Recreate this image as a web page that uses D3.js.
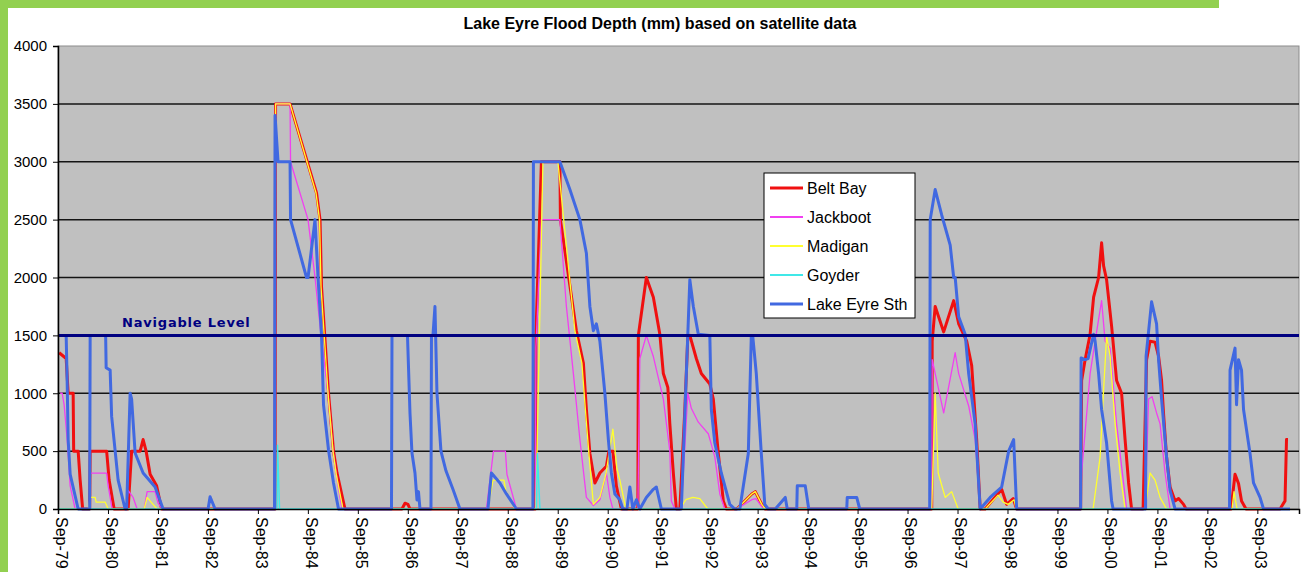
<!DOCTYPE html>
<html>
<head>
<meta charset="utf-8">
<script src="https://cdn.jsdelivr.net/npm/d3@7/dist/d3.min.js"></script>
<style>
  body { margin: 0; background: #fff; }
  svg { display: block; }
</style>
</head>
<body>
<div id="chart"></div>
<script>
// values: [decimal year, depth mm]
var beltBay = [
  [1979.69,1350],[1979.83,1300],[1979.87,1000],[1979.97,1000],[1979.98,500],[1980.07,500],[1980.11,250],[1980.16,0],
  [1980.30,0],[1980.31,500],[1980.64,500],[1980.69,250],[1980.79,0],
  [1981.07,0],[1981.14,500],[1981.31,500],[1981.37,600],[1981.43,500],[1981.51,300],[1981.64,200],[1981.74,0],
  [1984.01,0],[1984.02,3500],[1984.31,3500],[1984.84,2730],[1984.91,2500],[1984.94,1920],[1985.01,1460],[1985.08,1000],[1985.18,500],[1985.25,310],[1985.41,0],
  [1986.55,0],[1986.61,50],[1986.67,40],[1986.71,0],
  [1989.22,0],[1989.23,1500],[1989.34,3000],[1989.71,3000],[1989.72,2500],[1990.04,1540],[1990.18,1260],[1990.24,860],[1990.31,480],[1990.41,225],[1990.51,311],[1990.64,370],[1990.69,500],[1990.77,500],[1990.84,200],[1990.94,0],
  [1991.27,0],[1991.28,1500],[1991.44,2000],[1991.58,1830],[1991.71,1510],[1991.78,1170],[1991.87,1050],[1991.91,735],[1991.98,311],[1992.04,0],
  [1992.11,0],[1992.21,857],[1992.27,1490],[1992.31,1500],[1992.44,1300],[1992.54,1170],[1992.71,1080],[1992.78,950],[1992.88,480],[1992.98,70],[1993.04,0],
  [1993.25,0],[1993.55,130],[1993.62,150],[1993.75,40],[1993.82,0],
  [1997.15,0],[1997.16,1450],[1997.22,1750],[1997.39,1530],[1997.59,1800],[1997.69,1600],[1997.85,1450],[1997.95,1240],[1998.05,600],[1998.12,0],
  [1998.22,0],[1998.55,170],[1998.65,40],[1998.78,90],[1998.85,0],
  [2000.13,0],[2000.15,1110],[2000.22,1290],[2000.32,1510],[2000.39,1830],[2000.49,2000],[2000.55,2300],[2000.59,2100],[2000.65,1980],[2000.75,1580],[2000.85,1110],[2000.95,1000],[2001.02,600],[2001.09,225],[2001.15,0],
  [2001.38,0],[2001.45,1290],[2001.52,1450],[2001.62,1440],[2001.69,1320],[2001.75,1110],[2001.79,820],[2001.85,450],[2001.92,190],[2002.02,70],[2002.09,90],[2002.19,40],[2002.24,0],
  [2003.14,0],[2003.22,300],[2003.29,220],[2003.35,70],[2003.44,0],
  [2004.12,0],[2004.22,70],[2004.25,600],[2004.28,600]
];

var jackboot = [
  [1979.71,1000],[1979.75,1000],[1979.79,900],[1979.85,600],[1979.91,200],[1980.01,0],
  [1980.30,0],[1980.31,310],[1980.64,310],[1980.67,200],[1980.75,0],
  [1981.03,0],[1981.07,160],[1981.17,100],[1981.25,0],[1981.39,0],[1981.45,150],[1981.61,150],[1981.67,50],[1981.75,0],
  [1984.01,0],[1984.02,3500],[1984.31,3500],[1984.32,3000],[1984.67,2500],[1984.81,2000],[1984.93,1500],[1985.07,1000],[1985.17,500],[1985.27,200],[1985.35,0],
  [1988.24,0],[1988.38,500],[1988.62,500],[1988.65,300],[1988.84,0],
  [1989.22,0],[1989.23,1400],[1989.34,2500],[1989.71,2500],[1989.84,1750],[1989.98,1170],[1990.11,600],[1990.24,100],[1990.38,30],[1990.51,80],[1990.64,311],[1990.71,100],[1990.77,0],
  [1991.27,0],[1991.31,1300],[1991.44,1500],[1991.58,1317],[1991.78,950],[1991.91,500],[1991.94,70],[1992.01,0],
  [1992.14,0],[1992.27,1000],[1992.34,870],[1992.48,750],[1992.68,650],[1992.81,450],[1992.91,130],[1993.01,0],
  [1993.25,0],[1993.55,80],[1993.63,90],[1993.75,20],[1993.82,0],
  [1997.15,0],[1997.16,1290],[1997.39,830],[1997.62,1350],[1997.69,1170],[1997.89,890],[1998.02,600],[1998.12,0],
  [2000.13,0],[2000.15,311],[2000.32,1170],[2000.42,1450],[2000.55,1800],[2000.62,1450],[2000.72,1390],[2000.85,735],[2000.99,225],[2001.05,0],
  [2001.42,0],[2001.49,950],[2001.56,970],[2001.65,830],[2001.72,735],[2001.82,311],[2001.92,0],
  [2004.28,0]
];

var madigan = [
  [1979.67,0],[1980.27,0],[1980.31,100],[1980.41,100],[1980.43,60],[1980.61,60],[1980.67,0],
  [1981.39,0],[1981.45,100],[1981.53,60],[1981.65,0],
  [1984.01,0],[1984.02,3500],[1984.31,3500],[1984.83,2730],[1984.90,2500],[1984.93,1920],[1985.00,1460],[1985.07,1000],[1985.17,500],[1985.23,310],[1985.37,0],
  [1988.27,0],[1988.37,250],[1988.59,250],[1988.63,150],[1988.81,0],
  [1989.23,0],[1989.37,3000],[1989.67,3000],[1990.01,1540],[1990.15,1260],[1990.22,860],[1990.29,480],[1990.38,40],[1990.51,100],[1990.63,300],[1990.77,690],[1990.85,350],[1990.91,250],[1991.03,0],
  [1992.11,0],[1992.23,80],[1992.37,100],[1992.51,90],[1992.67,0],
  [1993.25,0],[1993.55,130],[1993.62,150],[1993.75,40],[1993.82,0],
  [1997.15,0],[1997.22,1000],[1997.28,311],[1997.42,100],[1997.55,150],[1997.68,0],
  [1998.22,0],[1998.48,120],[1998.58,60],[1998.68,40],[1998.80,80],[1998.84,0],
  [2000.38,0],[2000.52,450],[2000.59,1030],[2000.65,1490],[2000.72,1320],[2000.82,735],[2000.92,311],[2001.02,0],
  [2001.42,0],[2001.52,311],[2001.62,250],[2001.72,100],[2001.85,0],
  [2003.16,0],[2003.20,150],[2003.26,0],[2004.28,0]
];

var goyder = [
  [1979.67,0],[1984.05,0],[1984.06,550],[1984.10,0],
  [1989.24,0],[1989.26,480],[1989.31,0],[2004.28,0]
];

var lakeEyreSth = [
  [1979.81,1500],[1979.83,1500],[1979.85,1100],[1979.87,600],[1979.91,300],[1979.99,150],[1980.07,0],
  [1980.30,0],[1980.31,1500],[1980.62,1500],[1980.63,1220],[1980.71,1200],[1980.74,800],[1980.87,250],[1981.01,0],
  [1981.04,0],[1981.11,1000],[1981.14,950],[1981.21,484],[1981.37,311],[1981.61,190],[1981.77,0],
  [1982.67,0],[1982.71,106],[1982.81,0],
  [1984.00,0],[1984.01,3400],[1984.07,3000],[1984.31,3000],[1984.32,2500],[1984.64,2000],[1984.67,2000],[1984.81,2500],[1984.87,2000],[1984.94,1500],[1984.98,900],[1985.08,510],[1985.18,225],[1985.28,0],
  [1986.34,0],[1986.35,1500],[1986.66,1500],[1986.71,830],[1986.75,484],[1986.81,311],[1986.85,78],[1986.88,150],[1986.91,0],
  [1987.13,0],[1987.14,1500],[1987.17,1500],[1987.21,1750],[1987.25,1000],[1987.33,500],[1987.43,330],[1987.57,170],[1987.71,0],
  [1988.27,0],[1988.34,311],[1988.51,225],[1988.64,130],[1988.84,0],
  [1989.17,0],[1989.18,3000],[1989.71,3000],[1989.91,2760],[1990.11,2500],[1990.24,2210],[1990.31,1750],[1990.38,1540],[1990.44,1600],[1990.51,1450],[1990.61,1000],[1990.68,600],[1990.74,311],[1990.81,130],[1990.91,80],[1990.97,0],
  [1991.05,0],[1991.11,190],[1991.17,0],[1991.24,80],[1991.31,0],[1991.44,100],[1991.58,170],[1991.64,190],[1991.74,0],
  [1992.14,0],[1992.31,1980],[1992.38,1750],[1992.48,1510],[1992.71,1500],[1992.74,860],[1992.81,570],[1992.94,311],[1993.11,40],[1993.21,0],
  [1993.31,0],[1993.48,480],[1993.54,1490],[1993.57,1490],[1993.64,1170],[1993.74,480],[1993.81,40],[1993.88,0],
  [1994.02,0],[1994.22,100],[1994.26,0],[1994.45,0],[1994.46,200],[1994.62,200],[1994.69,0],
  [1995.45,0],[1995.46,100],[1995.65,100],[1995.71,0],
  [1997.11,0],[1997.12,2500],[1997.22,2760],[1997.35,2540],[1997.52,2280],[1997.59,2000],[1997.62,2000],[1997.69,1660],[1997.82,1510],[1997.89,1170],[1998.02,735],[1998.12,0],
  [1998.32,100],[1998.55,190],[1998.69,500],[1998.79,600],[1998.85,0],
  [2000.13,0],[2000.14,1305],[2000.22,1290],[2000.28,1300],[2000.39,1510],[2000.42,1450],[2000.49,1170],[2000.55,860],[2000.65,570],[2000.75,70],[2000.78,0],
  [2001.43,0],[2001.44,1320],[2001.55,1790],[2001.65,1600],[2001.69,1290],[2001.75,950],[2001.85,450],[2001.92,160],[2002.02,0],
  [2003.11,0],[2003.12,1200],[2003.22,1390],[2003.25,900],[2003.29,1290],[2003.35,1200],[2003.39,860],[2003.52,480],[2003.59,225],[2003.72,100],[2003.79,0],
  [2004.32,0]
];

var seriesNames = ["Belt Bay", "Jackboot", "Madigan", "Goyder", "Lake Eyre Sth"];
var seriesData = [beltBay, jackboot, madigan, goyder, lakeEyreSth];
var seriesColors = ["#f01010", "#f040f0", "#ffff30", "#40e8e8", "#4169e1"];
var seriesWidths = [3, 1.3, 1.3, 1.5, 3];

var yTicks = [0, 500, 1000, 1500, 2000, 2500, 3000, 3500, 4000];
var xTickLabels = ["Sep-79","Sep-80","Sep-81","Sep-82","Sep-83","Sep-84","Sep-85","Sep-86","Sep-87","Sep-88","Sep-89","Sep-90",
  "Sep-91","Sep-92","Sep-93","Sep-94","Sep-95","Sep-96","Sep-97","Sep-98","Sep-99","Sep-00","Sep-01","Sep-02","Sep-03"];
var navigableLevel = 1500;
var chartTitle = "Lake Eyre Flood Depth (mm) based on satellite data";

(function() {
    var W = 1307, H = 572;
    var pLeft = 58, pRight = 1299, pTop = 46, pBottom = 509;
    var font = "'Liberation Sans', Arial, sans-serif";

    var svg = d3.select("#chart").append("svg")
        .attr("width", W)
        .attr("height", H);

    // green frame
    svg.append("rect").attr("x", 0).attr("y", 0).attr("width", 8).attr("height", H).attr("fill", "#92d050");
    svg.append("rect").attr("x", 0).attr("y", 0).attr("width", 1219).attr("height", 8).attr("fill", "#92d050");

    // tick value from "Sep-YY"
    function tickYear(lbl) {
        var yy = parseInt(lbl.slice(4), 10);
        return (yy < 50 ? 2000 : 1900) + yy + 8 / 12;
    }
    var xTickValues = xTickLabels.map(tickYear);

    var x = d3.scaleLinear().domain([xTickValues[0], 2004.5]).range([pLeft, pRight]);
    var y = d3.scaleLinear().domain([0, 4000]).range([pBottom, pTop]);

    svg.append("rect")
        .attr("x", pLeft).attr("y", pTop)
        .attr("width", pRight - pLeft).attr("height", pBottom - pTop)
        .attr("fill", "#c0c0c0")
        .attr("stroke", "#8c8c8c").attr("stroke-width", 1);

    // gridlines
    svg.append("g")
        .selectAll("line")
        .data(yTicks.filter(function(d){ return d > 0 && d < 4000; }))
        .enter().append("line")
        .attr("x1", pLeft).attr("x2", pRight)
        .attr("y1", function(d){ return y(d); }).attr("y2", function(d){ return y(d); })
        .attr("stroke", "#141414").attr("stroke-width", 1.5);

    // series
    var line = d3.line()
        .x(function(d){ return x(d[0]); })
        .y(function(d){ return y(d[1]); });

    var plot = svg.append("g");
    seriesData.forEach(function(data, i) {
        plot.append("path")
            .datum(data)
            .attr("d", line)
            .attr("fill", "none")
            .attr("stroke", seriesColors[i])
            .attr("stroke-width", seriesWidths[i])
            .attr("stroke-linejoin", "round");
    });

    // navigable level
    svg.append("line")
        .attr("x1", pLeft).attr("x2", pRight)
        .attr("y1", y(navigableLevel)).attr("y2", y(navigableLevel))
        .attr("stroke", "#000080").attr("stroke-width", 3);
    svg.append("text")
        .attr("x", 122).attr("y", y(navigableLevel) - 8)
        .attr("font-family", "'DejaVu Sans', Verdana, sans-serif")
        .attr("font-weight", "bold")
        .attr("font-size", 13)
        .attr("letter-spacing", 0.8)
        .attr("fill", "#000080")
        .text("Navigable Level");

    // y axis
    var yAxis = svg.append("g")
        .attr("transform", "translate(" + pLeft + ",0)")
        .call(d3.axisLeft(y).tickValues(yTicks).tickSize(5).tickPadding(6).tickFormat(d3.format("d")));
    yAxis.select(".domain").attr("stroke", "#000").attr("stroke-width", 1.5);
    yAxis.selectAll(".tick line").attr("stroke", "#000");
    yAxis.selectAll("text").attr("font-family", font).attr("font-size", 15).attr("fill", "#000");

    // x axis
    var xAxis = svg.append("g")
        .attr("transform", "translate(0," + pBottom + ")")
        .call(d3.axisBottom(x).tickValues(xTickValues).tickSize(5)
            .tickFormat(function(d, i){ return xTickLabels[i]; }));
    xAxis.select(".domain").attr("stroke", "#000").attr("stroke-width", 1.5);
    xAxis.selectAll(".tick line").attr("stroke", "#000");
    xAxis.selectAll("text")
        .attr("x", 0).attr("y", 0).attr("dy", "0.35em")
        .attr("transform", "translate(3,8) rotate(90)")
        .attr("text-anchor", "start")
        .attr("font-family", font).attr("font-size", 16).attr("fill", "#000");

    // title
    svg.append("text")
        .attr("x", 660).attr("y", 29)
        .attr("text-anchor", "middle")
        .attr("font-family", font)
        .attr("font-weight", "bold")
        .attr("font-size", 16)
        .text(chartTitle);

    // legend
    var legend = svg.append("g").attr("transform", "translate(764,173)");
    legend.append("rect")
        .attr("width", 151).attr("height", 145)
        .attr("fill", "#fff").attr("stroke", "#000").attr("stroke-width", 1);
    seriesNames.forEach(function(name, i) {
        var ly = 15 + i * 29;
        legend.append("line")
            .attr("x1", 6).attr("x2", 39)
            .attr("y1", ly).attr("y2", ly)
            .attr("stroke", seriesColors[i])
            .attr("stroke-width", i === 0 || i === 4 ? 3 : 2);
        legend.append("text")
            .attr("x", 43).attr("y", ly)
            .attr("dy", "0.35em")
            .attr("font-family", font).attr("font-size", 16)
            .text(name);
    });
})();
</script>
</body>
</html>
